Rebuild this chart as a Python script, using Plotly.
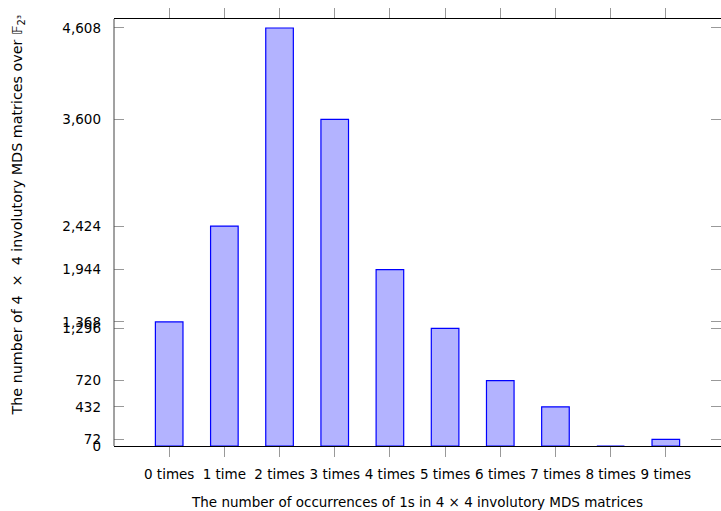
import plotly.graph_objects as go

categories = ["0 times", "1 time", "2 times", "3 times", "4 times",
              "5 times", "6 times", "7 times", "8 times", "9 times"]
counts = [1368, 2424, 4608, 3600, 1944, 1296, 720, 432, 0, 72]
ytick_vals = [0, 72, 432, 720, 1296, 1368, 1944, 2424, 3600, 4608]
ytick_text = ["{:,}".format(v) for v in ytick_vals]
x_title = "The number of occurrences of 1s in 4 × 4 involutory MDS matrices"
y_title = "The number of 4  ×  4 involutory MDS matrices over 𝔽<sub>2³</sub>"

xpos = list(range(len(categories)))
FONT = "DejaVu Sans"
FS = 13.5

fig = go.Figure()
fig.add_trace(go.Bar(
    x=xpos, y=counts, width=0.5,
    marker=dict(color="rgb(179,179,255)", line=dict(color="rgb(0,0,255)", width=1.2)),
))

fig.update_layout(
    width=721, height=511,
    margin=dict(l=114, r=0, t=19, b=65, autoexpand=False),
    plot_bgcolor="white", paper_bgcolor="white",
    showlegend=False,
    font=dict(family=FONT, size=FS, color="black"),
    xaxis=dict(
        range=[-1, 10], tickvals=xpos, ticktext=categories,
        ticks="outside", ticklen=10, tickcolor="#999", tickwidth=1,
        showline=True, linecolor="black", linewidth=1, mirror="allticks",
        showgrid=False, zeroline=False, automargin=False,
        tickfont=dict(size=FS), ticklabelstandoff=6,
        title=dict(text=x_title, font=dict(size=FS), standoff=16),
    ),
    yaxis=dict(
        range=[0, 4707], tickvals=ytick_vals, ticktext=ytick_text,
        ticks="inside", ticklen=10, tickcolor="#999", tickwidth=1,
        showline=False, mirror="ticks",
        showgrid=False, zeroline=False, automargin=False,
        tickfont=dict(size=FS), ticklabelstandoff=12,
    ),
)
fig.add_annotation(text=y_title, textangle=-90, showarrow=False,
                   xref="paper", yref="paper", x=0, y=0.54, xshift=-96,
                   xanchor="center", yanchor="middle", font=dict(size=14.3))
fig.add_shape(type="line", xref="paper", yref="paper", x0=0, x1=0, y0=0, y1=1,
              line=dict(color="#444", width=1))

fig.write_html("out.html", config={"displayModeBar": False},
               post_script="document.body.style.margin='0';")
